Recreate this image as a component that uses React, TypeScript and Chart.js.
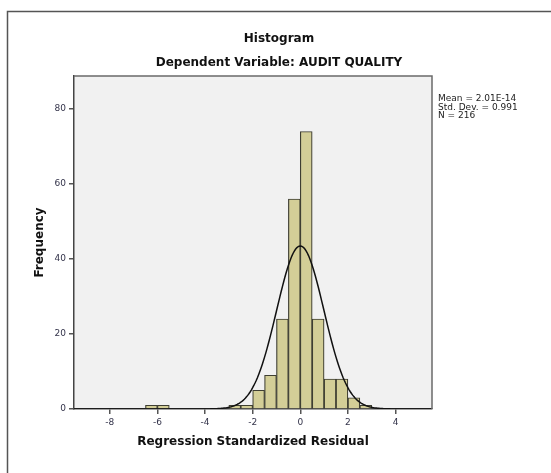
import React, { useEffect, useRef } from 'react';
import { Chart, registerables } from 'chart.js';

Chart.register(...registerables);

// ---- Data ----
const binCenters = [-6.25, -5.75, -2.75, -2.25, -1.75, -1.25, -0.75, -0.25, 0.25, 0.75, 1.25, 1.75, 2.25, 2.75];
const binCounts = [1, 1, 1, 1, 5, 9, 24, 56, 74, 24, 8, 8, 3, 1];
const xTickValues = [-8, -6, -4, -2, 0, 2, 4];
const yTickValues = [0, 20, 40, 60, 80];
const MEAN = 2.01e-14;
const SD = 0.991;
const N = 216;
const BIN_WIDTH = 0.5;
const X_MIN = -9.5;
const X_MAX = 5.53;
const Y_MAX = 88.8;

const titleText = 'Histogram';
const subtitleText = 'Dependent Variable: AUDIT QUALITY';
const statsLines = ['Mean = 2.01E-14', 'Std. Dev. = 0.991', 'N = 216'];
const xTitle = 'Regression Standardized Residual';
const yTitle = 'Frequency';

// Fitted normal curve (defined by the stats shown in the chart)
const curveX: number[] = [];
for (let i = 0; X_MIN + i * 0.05 <= X_MAX + 1e-9; i++) curveX.push(+(X_MIN + i * 0.05).toFixed(2));
const curvePoints = curveX.map((x) => ({
  x,
  y: (N * BIN_WIDTH) / (SD * Math.sqrt(2 * Math.PI)) * Math.exp(-0.5 * ((x - MEAN) / SD) ** 2),
}));

const FONT = "'DejaVu Sans', sans-serif";

const decorPlugin = {
  id: 'decor',
  beforeDraw(chart: any) {
    const { ctx, chartArea, width, height } = chart;
    ctx.save();
    ctx.fillStyle = '#ffffff';
    ctx.fillRect(0, 0, width, height);
    // outer frame
    ctx.strokeStyle = '#555555';
    ctx.lineWidth = 1.5;
    ctx.beginPath();
    ctx.moveTo(7.5, height + 5);
    ctx.lineTo(7.5, 11.5);
    ctx.lineTo(width + 5, 11.5);
    ctx.stroke();
    // plot background
    ctx.fillStyle = '#f1f1f1';
    ctx.fillRect(chartArea.left, chartArea.top, chartArea.right - chartArea.left, chartArea.bottom - chartArea.top);
    ctx.restore();
  },
  afterDraw(chart: any) {
    const { ctx, chartArea } = chart;
    ctx.save();
    // top & right plot border
    ctx.strokeStyle = '#6a6a6a';
    ctx.lineWidth = 1.5;
    ctx.beginPath();
    ctx.moveTo(chartArea.left, chartArea.top);
    ctx.lineTo(chartArea.right, chartArea.top);
    ctx.lineTo(chartArea.right, chartArea.bottom);
    ctx.stroke();
    // titles
    ctx.fillStyle = '#111111';
    ctx.textAlign = 'center';
    ctx.textBaseline = 'middle';
    ctx.font = `bold 12px ${FONT}`;
    ctx.fillText(titleText, 279, 39);
    ctx.fillText(subtitleText, 279, 63);
    // stats
    ctx.font = `9px ${FONT}`;
    ctx.textAlign = 'left';
    ctx.fillStyle = '#222222';
    statsLines.forEach((s, i) => ctx.fillText(s, 438, 99 + i * 8.5));
    ctx.restore();
  },
};

export default function App() {
  const ref = useRef<HTMLCanvasElement>(null);
  useEffect(() => {
    if (!ref.current) return;
    const chart = new Chart(ref.current, {
      type: 'bar',
      data: {
        datasets: [
          {
            type: 'line',
            data: curvePoints,
            borderColor: '#111111',
            borderWidth: 1.5,
            pointRadius: 0,
            fill: false,
            tension: 0,
            order: 0,
          } as any,
          {
            type: 'bar',
            data: binCenters.map((x, i) => ({ x, y: binCounts[i] })),
            backgroundColor: '#d3ce97',
            borderColor: '#3e3e32',
            borderWidth: 1.2,
            barPercentage: 1,
            categoryPercentage: 1,
            order: 1,
          } as any,
        ],
      },
      options: {
        animation: false,
        responsive: false,
        events: [],
        layout: { padding: { left: 29, top: 76, right: 119, bottom: 20 } },
        plugins: { legend: { display: false }, tooltip: { enabled: false }, title: { display: false } },
        scales: {
          x: {
            type: 'linear',
            min: X_MIN,
            max: X_MAX,
            offset: false,
            grid: { display: true, drawOnChartArea: false, drawTicks: true, tickLength: 5, color: '#555555', lineWidth: 1.5, offset: false },
            border: { display: true, color: '#444444', width: 1.5 },
            afterBuildTicks: (scale: any) => {
              scale.ticks = xTickValues.map((v) => ({ value: v }));
            },
            afterFit: (scale: any) => {
              scale.height = 44;
            },
            ticks: {
              autoSkip: false,
              maxRotation: 0,
              padding: 3,
              color: '#33334a',
              font: { family: FONT, size: 9 },
              callback: (v: any) => String(v),
            },
            title: { display: true, text: xTitle, color: '#111111', font: { family: FONT, size: 12, weight: 'bold' } },
          },
          y: {
            type: 'linear',
            min: 0,
            max: Y_MAX,
            grid: { display: true, drawOnChartArea: false, drawTicks: true, tickLength: 5, color: '#555555', lineWidth: 1.5 },
            border: { display: true, color: '#444444', width: 1.5 },
            afterBuildTicks: (scale: any) => {
              scale.ticks = yTickValues.map((v) => ({ value: v }));
            },
            afterFit: (scale: any) => {
              scale.width = 45;
            },
            ticks: {
              autoSkip: false,
              padding: 3,
              color: '#33334a',
              font: { family: FONT, size: 9 },
              callback: (v: any) => String(v),
            },
            title: { display: true, text: yTitle, color: '#111111', font: { family: FONT, size: 12, weight: 'bold' } },
          },
        },
      },
      plugins: [decorPlugin],
    });
    return () => chart.destroy();
  }, []);
  return (
    <div style={{ position: 'fixed', left: 0, top: 0, width: 551, height: 473 }}>
      <canvas ref={ref} width={551} height={473} />
    </div>
  );
}
